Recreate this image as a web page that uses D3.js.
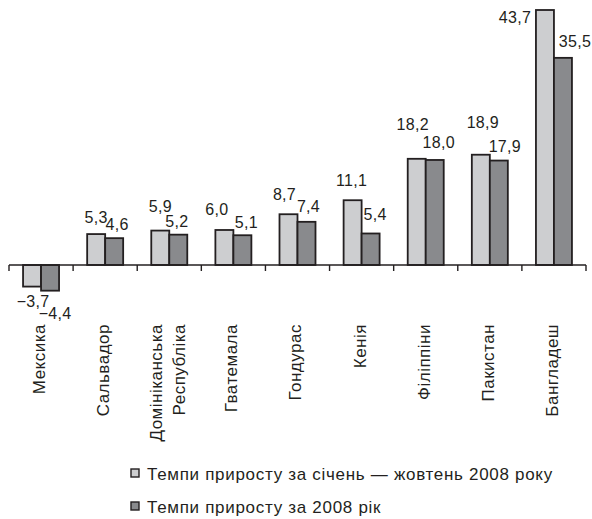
<!DOCTYPE html>
<html>
<head>
<meta charset="utf-8">
<script src="https://cdn.jsdelivr.net/npm/d3@7/dist/d3.min.js"></script>
<style>
  html, body { margin: 0; padding: 0; background: #fff; }
  svg { display: block; font-family: "Liberation Sans", Arial, sans-serif; }
</style>
</head>
<body>
<svg id="chart" width="592" height="519"></svg>
<script>
// Countries (category labels; "\n" splits a label across two lines)
const categories = [
  "Мексика", "Сальвадор", "Домініканська\nРеспубліка", "Гватемала",
  "Гондурас", "Кенія", "Філіппіни", "Пакистан", "Бангладеш"
];
// Growth rates, %
const janOct2008 = [-3.7, 5.3, 5.9, 6.0, 8.7, 11.1, 18.2, 18.9, 43.7];
const year2008   = [-4.4, 4.6, 5.2, 5.1, 7.4, 5.4, 18.0, 17.9, 35.5];
const seriesNames = [
  "Темпи приросту за січень — жовтень 2008 року",
  "Темпи приросту за 2008 рік"
];

// Label nudges [dx, dy]: dx from bar centre, dy from bar end to baseline
const labelNudgeA = [[1, 20], [0, -11], [0, -19], [-7.5, -15], [-4, -14], [-1, -14], [-4, -29], [2, -27], [-30, 13]];
const labelNudgeB = [[5, 28], [3, -8], [-1.5, -8], [4, -7], [2, -10], [4.5, -13.5], [4, -12], [6, -9], [12, -11]];

const fills = ["#cdced0", "#898a8d"];
const ink = "#231f20";

const svg = d3.select("#chart");

const x = d3.scaleBand().domain(categories).range([9, 586]);
const groupW = 36;
const xs = d3.scaleBand().domain([0, 1]).range([0, groupW]);
const y = d3.scaleLinear().domain([0, 43.7]).range([265, 10]);

const fmt = v => (v < 0 ? "\u2212" : "") + Math.abs(v).toFixed(1).replace(".", ",");

const rows = categories.map((c, i) => ({ c, vals: [janOct2008[i], year2008[i]], i }));

// Bars with value labels
const g = svg.append("g");
rows.forEach(r => {
  const x0 = x(r.c) + (x.bandwidth() - groupW) / 2;
  r.vals.forEach((v, s) => {
    const bx = x0 + xs(s);
    const top = Math.min(y(v), y(0));
    g.append("rect")
      .attr("x", bx)
      .attr("y", top)
      .attr("width", xs.bandwidth())
      .attr("height", Math.abs(y(v) - y(0)))
      .attr("fill", fills[s])
      .attr("stroke", ink)
      .attr("stroke-width", 1.8);
    const nudge = (s === 0 ? labelNudgeA : labelNudgeB)[r.i];
    g.append("text")
      .attr("x", bx + xs.bandwidth() / 2 + nudge[0])
      .attr("y", y(v) + nudge[1])
      .attr("text-anchor", "middle")
      .attr("font-size", 16)
      .attr("letter-spacing", 0.3)
      .attr("fill", ink)
      .text(fmt(v));
  });
});

// Category axis: line at zero with ticks on band boundaries
const axis = svg.append("g");
axis.append("line")
  .attr("x1", x.range()[0]).attr("x2", x.range()[1])
  .attr("y1", y(0)).attr("y2", y(0))
  .attr("stroke", ink).attr("stroke-width", 1.6);
const tickXs = categories.map(c => x(c)).concat([x.range()[1]]);
axis.selectAll("line.tick").data(tickXs).join("line")
  .attr("class", "tick")
  .attr("x1", d => d).attr("x2", d => d)
  .attr("y1", y(0)).attr("y2", y(0) + 6)
  .attr("stroke", ink).attr("stroke-width", 1.4);

// Rotated category labels
rows.forEach(r => {
  const lines = r.c.split("\n");
  const cx = x(r.c) + x.bandwidth() / 2 - 2;
  const lineGap = 23;
  lines.forEach((ln, k) => {
    const off = (k - (lines.length - 1) / 2) * lineGap;
    axis.append("text")
      .attr("transform", `translate(${cx + off},324) rotate(-90)`)
      .attr("dy", "0.35em")
      .attr("text-anchor", "end")
      .attr("font-size", 17)
      .attr("letter-spacing", 0.5)
      .attr("fill", ink)
      .text(ln);
  });
});

// Legend
const legend = svg.append("g").attr("transform", "translate(130,0)");
const legendY = [480, 513];
seriesNames.forEach((name, s) => {
  legend.append("rect")
    .attr("x", 1).attr("y", legendY[s] - 11)
    .attr("width", 8).attr("height", 8)
    .attr("fill", fills[s])
    .attr("stroke", ink).attr("stroke-width", 1.4);
  legend.append("text")
    .attr("x", 17).attr("y", legendY[s])
    .attr("font-size", 17)
    .attr("letter-spacing", 0.7)
    .attr("fill", ink)
    .text(name);
});
</script>
</body>
</html>
